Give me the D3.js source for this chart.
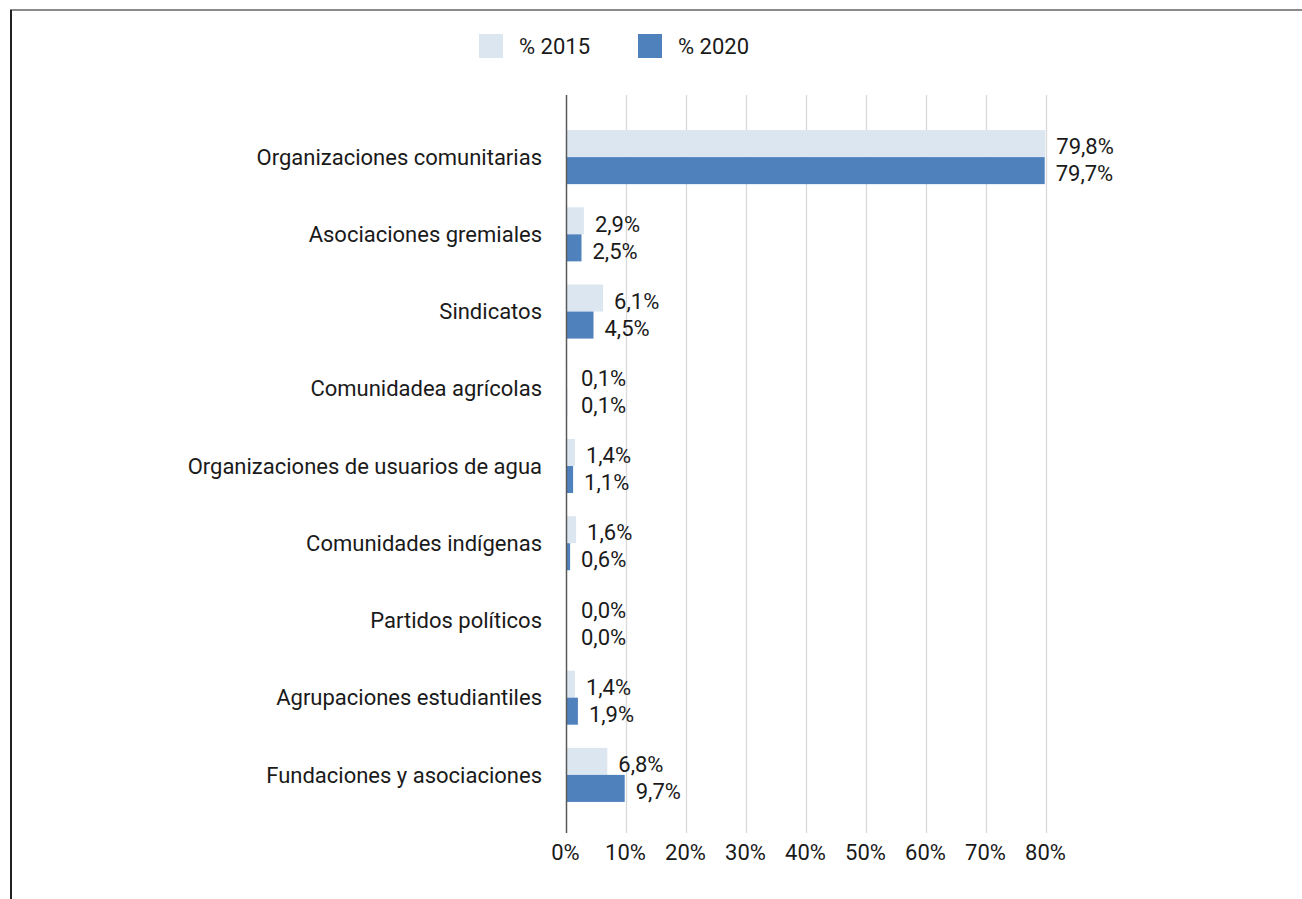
<!DOCTYPE html>
<html>
<head>
<meta charset="utf-8">
<script src="https://cdn.jsdelivr.net/npm/d3@7"></script>
<style>
	body { margin: 0; background: #fff; }
	svg text { font-family: Roboto, "Liberation Sans", sans-serif; fill: #1a1a1a; }
</style>
</head>
<body>
<svg id="chart" width="1302" height="899"></svg>
<script>
var categories = [
	'Organizaciones comunitarias',
	'Asociaciones gremiales',
	'Sindicatos',
	'Comunidadea agrícolas',
	'Organizaciones de usuarios de agua',
	'Comunidades indígenas',
	'Partidos políticos',
	'Agrupaciones estudiantiles',
	'Fundaciones y asociaciones'
];
var values2015 = [79.8, 2.9, 6.1, 0.1, 1.4, 1.6, 0.0, 1.4, 6.8];
var values2020 = [79.7, 2.5, 4.5, 0.1, 1.1, 0.6, 0.0, 1.9, 9.7];
var seriesNames = ['% 2015', '% 2020'];
var tickValues = [0, 10, 20, 30, 40, 50, 60, 70, 80];

var colors = ['#dce6f1', '#4f81bd'];
var fontSize = 22;

var svg = d3.select('#chart');

// frame lines
svg.append('line')
	.attr('x1', 10).attr('x2', 1302)
	.attr('y1', 10).attr('y2', 10)
	.attr('stroke', '#8a8a8a')
	.attr('stroke-width', 2);
svg.append('line')
	.attr('x1', 11).attr('x2', 11)
	.attr('y1', 10).attr('y2', 899)
	.attr('stroke', '#222')
	.attr('stroke-width', 2);

var x = d3.scaleLinear()
	.domain([0, 80])
	.range([566.5, 1046.5]);

var y = d3.scaleBand()
	.domain(categories)
	.range([118.5, 813.5])
	.paddingInner(0.3)
	.paddingOuter(0.15);

var sub = d3.scaleBand()
	.domain([0, 1])
	.range([0, y.bandwidth()]);

var plotTop = 95, plotBottom = 833;

// gridlines
svg.append('g')
	.selectAll('line')
	.data(tickValues.slice(1))
	.join('line')
	.attr('x1', function (d) { return x(d); })
	.attr('x2', function (d) { return x(d); })
	.attr('y1', plotTop)
	.attr('y2', plotBottom)
	.attr('stroke', '#d9d9d9')
	.attr('stroke-width', 1.3);

// bars
var rows = categories.map(function (c, i) {
	return { cat: c, vals: [values2015[i], values2020[i]] };
});

var groups = svg.append('g')
	.selectAll('g')
	.data(rows)
	.join('g')
	.attr('transform', function (d) { return 'translate(0,' + y(d.cat) + ')'; });

groups.selectAll('rect')
	.data(function (d) { return d.vals; })
	.join('rect')
	.attr('x', x(0))
	.attr('y', function (d, i) { return sub(i); })
	.attr('width', function (d) { return x(d) - x(0); })
	.attr('height', sub.bandwidth())
	.attr('fill', function (d, i) { return colors[i]; });

groups.selectAll('text.val')
	.data(function (d) { return d.vals; })
	.join('text')
	.attr('class', 'val')
	.attr('x', function (d) { return Math.max(x(d) + 11, 581); })
	.attr('y', function (d, i) { return sub(i) + sub.bandwidth() / 2 + 3; })
	.attr('dy', '0.35em')
	.attr('font-size', fontSize)
	.text(function (d) { return d.toFixed(1).replace('.', ',') + '%'; });

// category labels
svg.append('g')
	.selectAll('text')
	.data(categories)
	.join('text')
	.attr('x', 542)
	.attr('y', function (d) { return y(d) + y.bandwidth() / 2; })
	.attr('dy', '0.35em')
	.attr('text-anchor', 'end')
	.attr('font-size', fontSize)
	.text(function (d) { return d; });

// y axis line
svg.append('line')
	.attr('x1', x(0)).attr('x2', x(0))
	.attr('y1', plotTop).attr('y2', plotBottom)
	.attr('stroke', '#595959')
	.attr('stroke-width', 1.5);

// x tick labels
svg.append('g')
	.selectAll('text')
	.data(tickValues)
	.join('text')
	.attr('x', function (d) { return x(d) - 1; })
	.attr('y', 852)
	.attr('dy', '0.35em')
	.attr('text-anchor', 'middle')
	.attr('font-size', fontSize)
	.text(function (d) { return d + '%'; });

// legend
var legend = svg.append('g')
	.selectAll('g')
	.data(seriesNames)
	.join('g')
	.attr('transform', function (d, i) { return 'translate(' + (479 + i * 159) + ',34)'; });

legend.append('rect')
	.attr('width', 24)
	.attr('height', 24)
	.attr('fill', function (d, i) { return colors[i]; });

legend.append('text')
	.attr('x', 40)
	.attr('y', 12)
	.attr('dy', '0.35em')
	.attr('font-size', fontSize)
	.text(function (d) { return d; });
</script>
</body>
</html>
